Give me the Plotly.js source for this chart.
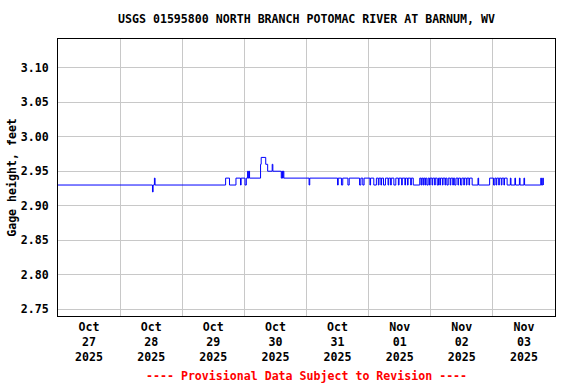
<!DOCTYPE html>
<html>
<head>
<meta charset="utf-8">
<script src="https://cdn.plot.ly/plotly-3.0.1.min.js"></script>
<style>html,body{margin:0;padding:0;background:#fff}#chart{width:576px;height:384px}</style>
</head>
<body>
<div id="chart"></div>
<script>
// Change points of the gage-height record (value holds until the next time)
const times = [
  "2025-10-27 00:00","2025-10-28 12:30","2025-10-28 12:45","2025-10-28 13:15","2025-10-28 13:30",
  "2025-10-29 16:45","2025-10-29 18:15","2025-10-29 20:45","2025-10-29 22:30","2025-10-29 22:45",
  "2025-10-30 00:15","2025-10-30 00:45","2025-10-30 01:15","2025-10-30 01:30","2025-10-30 01:45",
  "2025-10-30 02:00","2025-10-30 06:15","2025-10-30 06:30","2025-10-30 08:15","2025-10-30 09:00",
  "2025-10-30 10:45","2025-10-30 11:00","2025-10-30 14:15","2025-10-30 14:30","2025-10-30 14:45",
  "2025-10-30 15:00","2025-10-30 15:15","2025-10-31 01:00","2025-10-31 01:15","2025-10-31 12:00",
  "2025-10-31 12:15","2025-10-31 13:30","2025-10-31 14:00","2025-10-31 16:00","2025-10-31 16:30",
  "2025-10-31 20:30","2025-10-31 21:00","2025-10-31 21:45","2025-10-31 22:15","2025-11-01 00:30",
  "2025-11-01 00:45","2025-11-01 02:00","2025-11-01 03:00","2025-11-01 03:45","2025-11-01 04:00",
  "2025-11-01 04:45","2025-11-01 05:00","2025-11-01 05:45","2025-11-01 06:30","2025-11-01 07:30",
  "2025-11-01 07:45","2025-11-01 08:30","2025-11-01 08:45","2025-11-01 09:45","2025-11-01 10:30",
  "2025-11-01 11:30","2025-11-01 11:45","2025-11-01 12:45","2025-11-01 13:00","2025-11-01 14:00",
  "2025-11-01 14:15","2025-11-01 15:00","2025-11-01 15:15","2025-11-01 16:15","2025-11-01 16:30",
  "2025-11-01 17:15","2025-11-01 19:45","2025-11-01 20:15","2025-11-01 20:30","2025-11-01 21:00",
  "2025-11-01 21:15","2025-11-01 21:45","2025-11-01 22:00","2025-11-01 22:30","2025-11-01 23:00",
  "2025-11-01 23:30","2025-11-01 23:45","2025-11-02 00:30","2025-11-02 00:45","2025-11-02 01:30",
  "2025-11-02 01:45","2025-11-02 02:30","2025-11-02 03:00","2025-11-02 03:30","2025-11-02 03:45",
  "2025-11-02 04:30","2025-11-02 04:45","2025-11-02 05:30","2025-11-02 05:45","2025-11-02 06:15",
  "2025-11-02 06:45","2025-11-02 07:30","2025-11-02 07:45","2025-11-02 08:30","2025-11-02 08:45",
  "2025-11-02 09:15","2025-11-02 09:45","2025-11-02 10:30","2025-11-02 10:45","2025-11-02 11:30",
  "2025-11-02 12:00","2025-11-02 12:45","2025-11-02 13:00","2025-11-02 13:45","2025-11-02 14:00",
  "2025-11-02 14:45","2025-11-02 15:00","2025-11-02 16:00","2025-11-02 18:15","2025-11-02 18:30",
  "2025-11-02 22:45","2025-11-03 00:15","2025-11-03 00:45","2025-11-03 01:15","2025-11-03 01:30",
  "2025-11-03 02:15","2025-11-03 02:30","2025-11-03 03:15","2025-11-03 03:30","2025-11-03 04:15",
  "2025-11-03 04:30","2025-11-03 05:30","2025-11-03 06:45","2025-11-03 07:00","2025-11-03 08:30",
  "2025-11-03 08:45","2025-11-03 10:15","2025-11-03 10:30","2025-11-03 12:00","2025-11-03 12:15",
  "2025-11-03 18:30","2025-11-03 18:45","2025-11-03 19:15","2025-11-03 19:30"
];
const gageHeight = [
  2.93,2.92,2.93,2.94,2.93,
  2.94,2.93,2.94,2.93,2.94,
  2.93,2.94,2.95,2.94,2.95,
  2.94,2.96,2.97,2.96,2.95,
  2.96,2.95,2.94,2.95,2.94,
  2.95,2.94,2.93,2.94,2.93,
  2.94,2.93,2.94,2.93,2.94,
  2.93,2.94,2.93,2.94,2.93,
  2.94,2.93,2.94,2.93,2.94,
  2.93,2.94,2.93,2.94,2.93,
  2.94,2.93,2.94,2.93,2.94,
  2.93,2.94,2.93,2.94,2.93,
  2.94,2.93,2.94,2.93,2.94,
  2.93,2.94,2.93,2.94,2.93,
  2.94,2.93,2.94,2.93,2.94,
  2.93,2.94,2.93,2.94,2.93,
  2.94,2.93,2.94,2.93,2.94,
  2.93,2.94,2.93,2.94,2.93,
  2.94,2.93,2.94,2.93,2.94,
  2.93,2.94,2.93,2.94,2.93,
  2.94,2.93,2.94,2.93,2.94,
  2.93,2.94,2.93,2.94,2.93,
  2.94,2.93,2.94,2.93,2.94,
  2.93,2.94,2.93,2.94,2.93,
  2.94,2.93,2.94,2.93,2.94,
  2.93,2.94,2.93,2.94,2.93,
  2.94,2.93,2.94,2.93
];
const yTicks = [2.75, 2.80, 2.85, 2.90, 2.95, 3.00, 3.05, 3.10];
const xRange = ["2025-10-27 00:00", "2025-11-04 00:00"];
const yRange = [2.7403, 3.1415];
const chartTitle = "USGS 01595800 NORTH BRANCH POTOMAC RIVER AT BARNUM, WV";
const yTitle = "Gage height, feet";
const footer = "---- Provisional Data Subject to Revision ----";

const font = {family: "DejaVu Sans Mono, Liberation Mono, monospace", size: 11.6, weight: "bold", color: "#000"};

const trace = {
  x: times, y: gageHeight, type: "scatter", mode: "lines",
  line: {color: "#0000ff", width: 1, shape: "hv"},
  hoverinfo: "skip"
};

const layout = {
  width: 576, height: 384,
  margin: {l: 58, r: 21, t: 39, b: 68, pad: 0},
  paper_bgcolor: "#fff", plot_bgcolor: "#fff",
  showlegend: false,
  font: font,
  title: {text: chartTitle, font: font, x: 0.5, xref: "paper", xanchor: "center", y: 1 - 19/384, yref: "container", yanchor: "middle"},
  xaxis: {
    type: "date", range: xRange, autorange: false,
    tick0: "2025-10-27", dtick: 86400000, ticklabelmode: "period",
    tickformat: "%b<br>%d<br>%Y", tickfont: font,
    showgrid: true, gridcolor: "#c8c8c8", gridwidth: 1,
    showline: true, linecolor: "#000", linewidth: 1, mirror: true,
    ticks: "", zeroline: false
  },
  yaxis: {
    range: yRange, autorange: false,
    tickvals: yTicks, ticktext: yTicks.map(v => v.toFixed(2)), tickfont: font,
    showgrid: true, gridcolor: "#c8c8c8", gridwidth: 1,
    showline: true, linecolor: "#000", linewidth: 1, mirror: true,
    ticks: "", ticklabelstandoff: 6, zeroline: false,
    title: {text: yTitle, font: font, standoff: 1}
  },
  annotations: [{
    text: footer, xref: "paper", yref: "paper", x: 0.5, y: -(376 - 316) / 277,
    xanchor: "center", yanchor: "middle", showarrow: false,
    font: {family: font.family, size: 11.6, weight: "bold", color: "#ff0000"}
  }]
};

Plotly.newPlot("chart", [trace], layout, {staticPlot: true, displayModeBar: false});
</script>
</body>
</html>
